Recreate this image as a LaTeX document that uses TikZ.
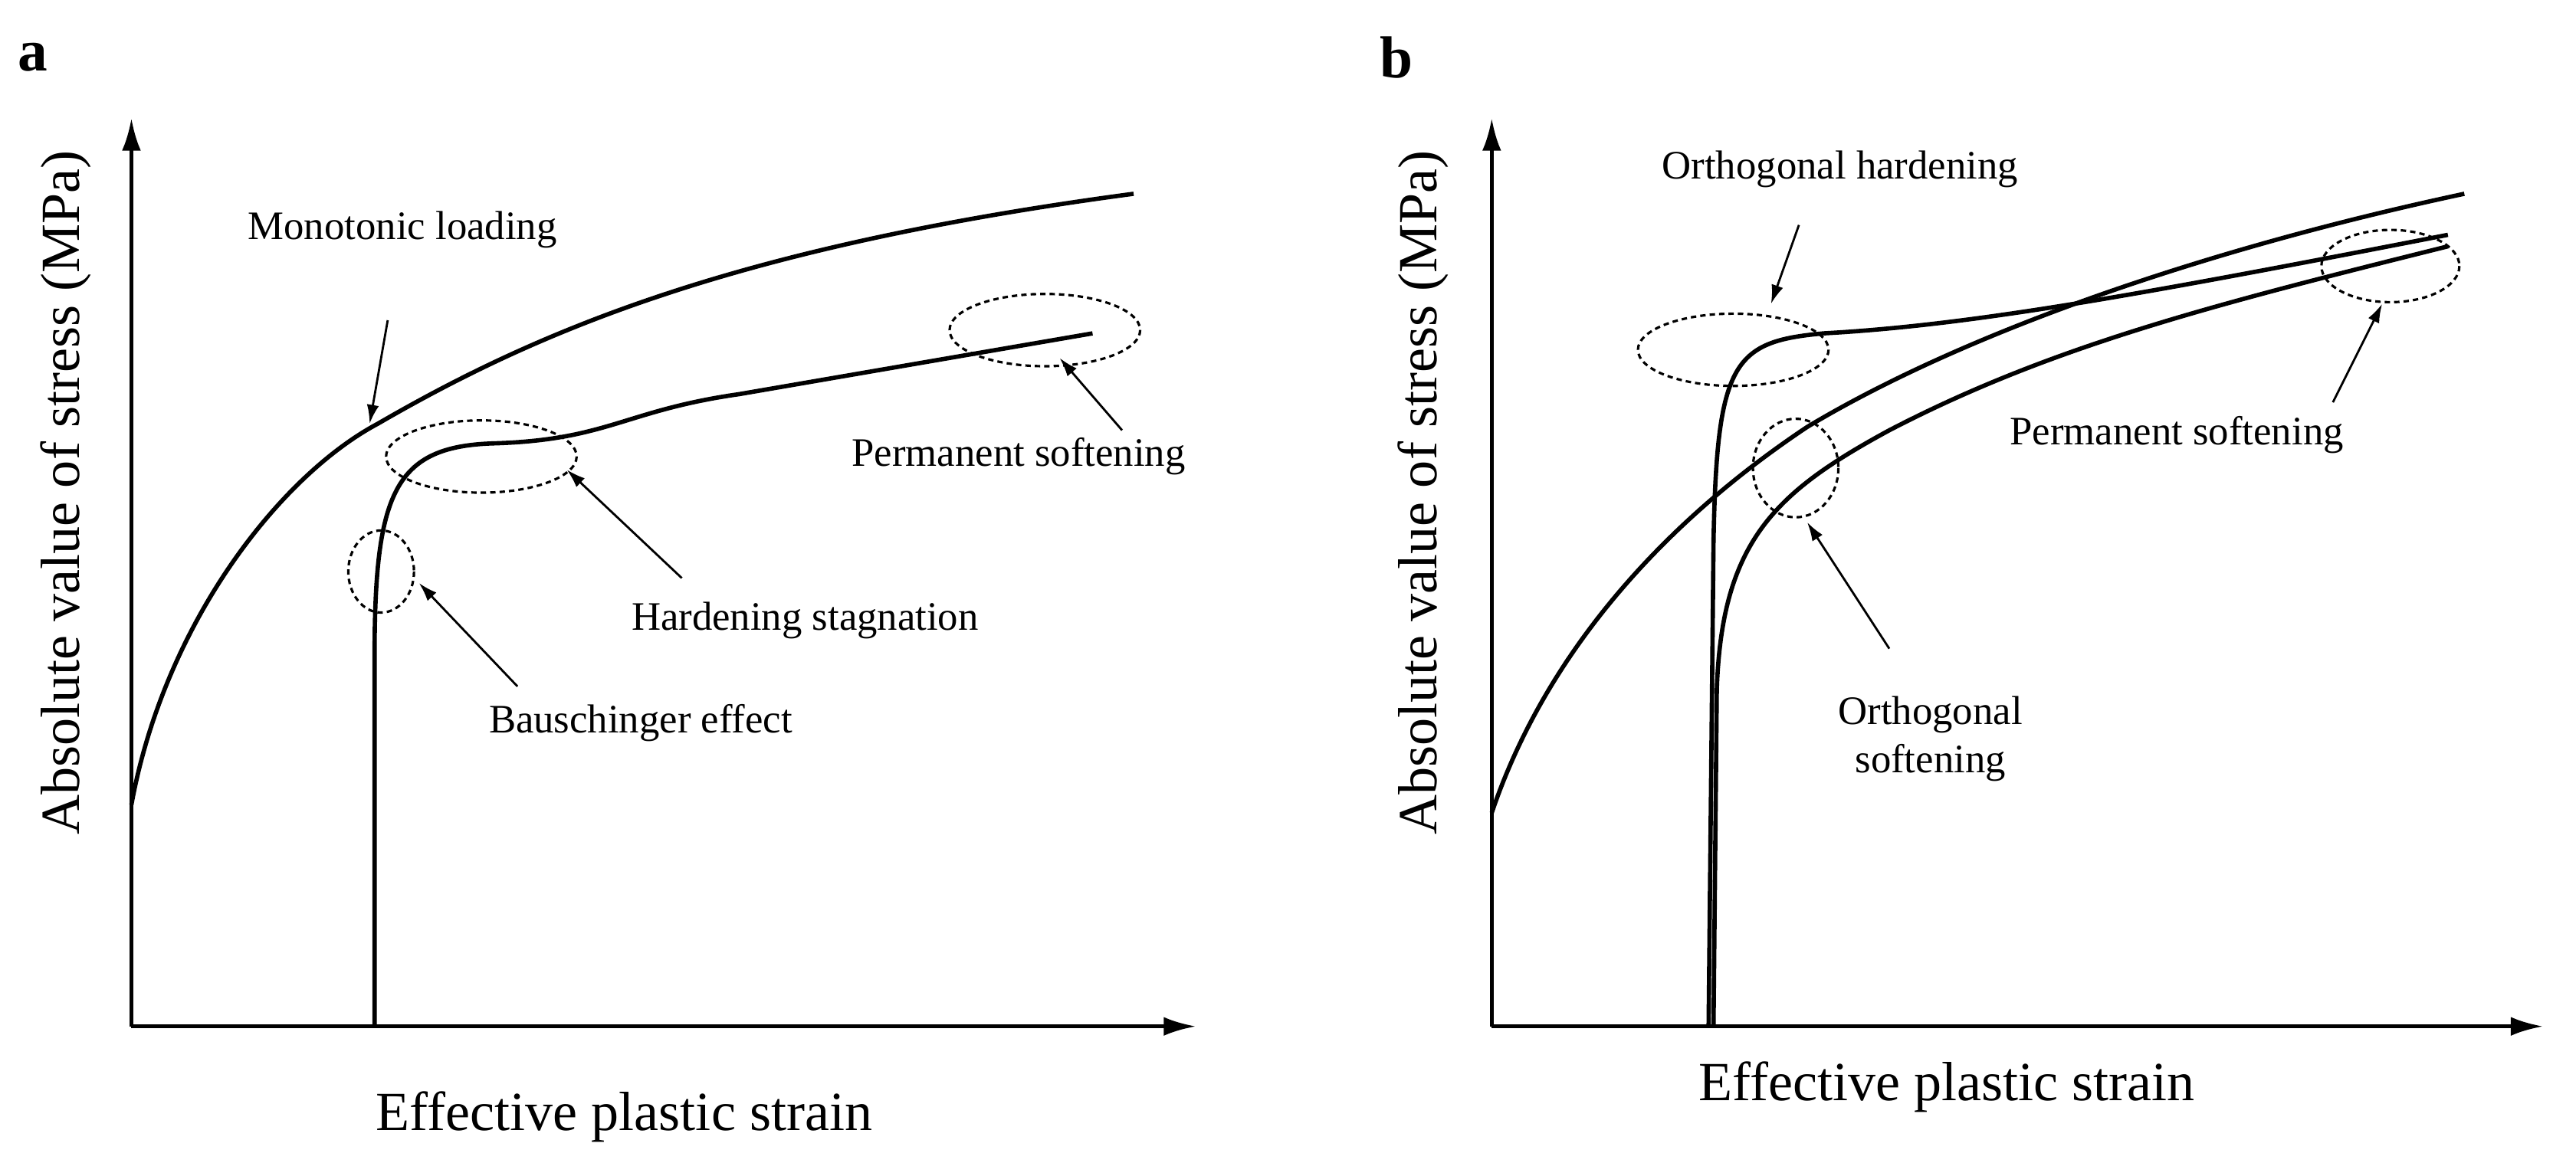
\documentclass[tikz,border=0pt]{standalone}
\usepackage{fontspec}
\setmainfont{Liberation Serif}
\usetikzlibrary{arrows.meta}
\begin{document}
\begin{tikzpicture}[x=0.02143cm,y=-0.02143cm,
  curve/.style={line width=1.6pt},
  axis/.style={line width=1.4pt,-{Latex[length=12pt,width=7pt]}},
  ell/.style={dash pattern=on 2pt off 1.5pt,line width=0.9pt},
  lbl/.style={font=\fontsize{15}{18}\selectfont},
  big/.style={font=\fontsize{20.5}{24}\selectfont},
  ptr/.style={line width=0.8pt,-{Latex[length=7pt,width=4.5pt]}}]
\useasboundingbox (0,0) rectangle (1568,708);
% panel a
\node[font=\fontsize{22}{24}\selectfont\bfseries] (la) at (20,35) {a};
\coordinate (oa) at (80,625);
\draw[axis] (oa) -- (80,72);
\draw[axis] (oa) -- (728,625);
\node[big,rotate=90] (yla) at (40,300) {Absolute value of stress (MPa)};
\node[big] (xla) at (380,680) {Effective plastic strain};
\draw[curve] (80,490) .. controls (100,380) and (170,290) .. (230,258) .. controls (330,200) and (450,150) .. (690,118);
\draw[curve] (228,625) -- (228,400) .. controls (228,300) and (240,272) .. (300,270) .. controls (370,268) and (380,250) .. (450,240) -- (665,203);
\draw[ell] (232,348) ellipse (20 and 25);
\draw[ell] (293,278) ellipse (58 and 22);
\draw[ell] (636,201) ellipse (58 and 22);
\node[lbl] (ml) at (245,140) {Monotonic loading};
\node[lbl] (hs) at (490,378) {Hardening stagnation};
\node[lbl] (be) at (390,440) {Bauschinger effect};
\node[lbl] (ps) at (620,278) {Permanent softening};
\coordinate (ml1) at (225,258); \coordinate (hs1) at (345,286);
\coordinate (be1) at (255,355); \coordinate (ps1) at (645,218);
\draw[ptr] (236,195) -- (ml1);
\draw[ptr] (415,352) -- (hs1);
\draw[ptr] (315,418) -- (be1);
\draw[ptr] (683,262) -- (ps1);
% panel b
\node[font=\fontsize{22}{24}\selectfont\bfseries] (lb) at (850,35) {b};
\coordinate (ob) at (908,625);
\draw[axis] (ob) -- (908,72);
\draw[axis] (ob) -- (1548,625);
\node[big,rotate=90] (ylb) at (866,300) {Absolute value of stress (MPa)};
\node[big] (xlb) at (1185,662) {Effective plastic strain};
\draw[curve] (908,495) .. controls (940,400) and (1010,320) .. (1100,260) .. controls (1200,200) and (1350,150) .. (1500,118);
\draw[curve] (1040,625) -- (1043,330) .. controls (1045,220) and (1055,208) .. (1110,203) .. controls (1200,198) and (1300,180) .. (1490,143);
\draw[curve] (1043,625) -- (1045,420) .. controls (1048,330) and (1080,300) .. (1150,262) .. controls (1250,210) and (1350,185) .. (1490,150);
\draw[ell] (1055,213) ellipse (58 and 22);
\draw[ell] (1093,285) ellipse (26 and 30);
\draw[ell] (1455,162) ellipse (42 and 22);
\node[lbl] (oh) at (1120,103) {Orthogonal hardening};
\node[lbl,align=center] (os) at (1175,450) {Orthogonal\\softening};
\node[lbl] (ps2) at (1325,265) {Permanent softening};
\coordinate (oh1) at (1078,185); \coordinate (os1) at (1100,318); \coordinate (ps21) at (1450,185);
\draw[ptr] (1095,137) -- (oh1);
\draw[ptr] (1150,395) -- (os1);
\draw[ptr] (1420,245) -- (ps21);
\end{tikzpicture}
\end{document}
